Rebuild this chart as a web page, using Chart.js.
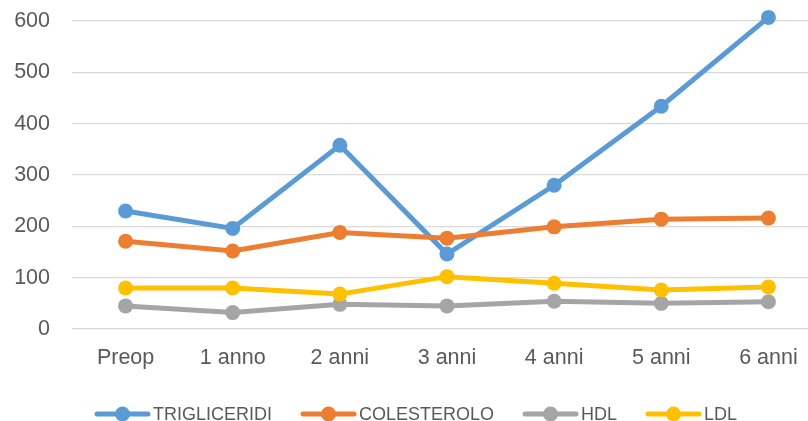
<!DOCTYPE html>
<html>
<head>
<meta charset="utf-8">
<script src="https://cdn.jsdelivr.net/npm/chart.js@4/dist/chart.umd.min.js"></script>
<style>
  html, body { margin: 0; padding: 0; background: #ffffff; overflow: hidden; }
  #frame { width: 808px; height: 421px; overflow: hidden; position: relative; }
  /* plot area continues a little past the visible right edge */
  #wrap { position: absolute; left: 0; top: 0; width: 822px; height: 421px; }
</style>
</head>
<body>
<div id="frame"><div id="wrap"><canvas id="chart"></canvas></div></div>
<script>
// Lipid values over follow-up (mg/dL)
const categories   = ['Preop', '1 anno', '2 anni', '3 anni', '4 anni', '5 anni', '6 anni'];
const trigliceridi = [230, 196, 358, 146, 280, 434, 607];
const colesterolo  = [171, 152, 188, 177, 199, 214, 216];
const hdl          = [45, 32, 48, 45, 54, 50, 53];
const ldl          = [80, 80, 68, 102, 89, 76, 82];
const yTicks       = [0, 100, 200, 300, 400, 500, 600];

const seriesNames  = ['TRIGLICERIDI', 'COLESTEROLO', 'HDL', 'LDL'];
const seriesValues = [trigliceridi, colesterolo, hdl, ldl];
const seriesColors = ['#5b9bd5', '#ed7d31', '#a5a5a5', '#ffc000'];

const textColor  = '#595959';
const tickFont   = { family: "'Liberation Sans', Arial, sans-serif", size: 21.5 };
const legendFont = "18px 'Liberation Sans', Arial, sans-serif";

// Legend drawn as line + marker swatches, laid out left to right
const lineLegend = {
  id: 'lineLegend',
  afterDraw(chart, args, opts) {
    const ctx = chart.ctx;
    ctx.save();
    ctx.font = legendFont;
    ctx.textBaseline = 'middle';
    ctx.textAlign = 'left';
    let x = opts.left;
    const y = opts.y;
    chart.data.datasets.forEach((ds) => {
      ctx.strokeStyle = ds.borderColor;
      ctx.lineWidth = 5;
      ctx.lineCap = 'round';
      ctx.beginPath();
      ctx.moveTo(x + 2, y);
      ctx.lineTo(x + opts.swatch - 2, y);
      ctx.stroke();
      ctx.fillStyle = ds.borderColor;
      ctx.beginPath();
      ctx.arc(x + opts.swatch / 2, y, 7.5, 0, Math.PI * 2);
      ctx.fill();
      const tx = x + opts.swatch + opts.textGap;
      ctx.fillStyle = textColor;
      ctx.fillText(ds.label, tx, y + 1);
      x = tx + ctx.measureText(ds.label).width + opts.itemGap;
    });
    ctx.restore();
  }
};

new Chart(document.getElementById('chart'), {
  type: 'line',
  data: {
    labels: categories,
    datasets: seriesNames.map((name, i) => ({
      label: name,
      data: seriesValues[i],
      borderColor: seriesColors[i],
      backgroundColor: seriesColors[i],
      pointBackgroundColor: seriesColors[i],
      pointBorderColor: seriesColors[i],
      borderWidth: 5,
      pointRadius: 7.5,
      pointBorderWidth: 0,
      tension: 0,
      clip: false,
      order: seriesNames.length - i
    }))
  },
  options: {
    responsive: true,
    maintainAspectRatio: false,
    animation: false,
    events: [],
    layout: { autoPadding: false, padding: { left: 0, right: 0, top: 21, bottom: 32 } },
    plugins: {
      legend: { display: false },
      tooltip: { enabled: false },
      lineLegend: { left: 95, y: 414, swatch: 55, textGap: 3, itemGap: 29 }
    },
    scales: {
      x: {
        offset: true,
        grid: { display: false, drawTicks: false },
        border: { display: false },
        ticks: { font: tickFont, color: textColor, padding: 16 },
        afterFit(scale) {
          scale.height = 60;
          scale.paddingLeft = 0;
          scale.paddingRight = 0;
        }
      },
      y: {
        min: 0,
        max: 600,
        afterBuildTicks(scale) { scale.ticks = yTicks.map(v => ({ value: v })); },
        grid: { color: '#d9d9d9', lineWidth: 1.3, drawTicks: false },
        border: { display: false },
        ticks: { font: tickFont, color: textColor, padding: 22 },
        afterFit(scale) {
          scale.width = 72;
          scale.paddingTop = 0;
          scale.paddingBottom = 0;
        }
      }
    }
  },
  plugins: [lineLegend]
});
</script>
</body>
</html>
